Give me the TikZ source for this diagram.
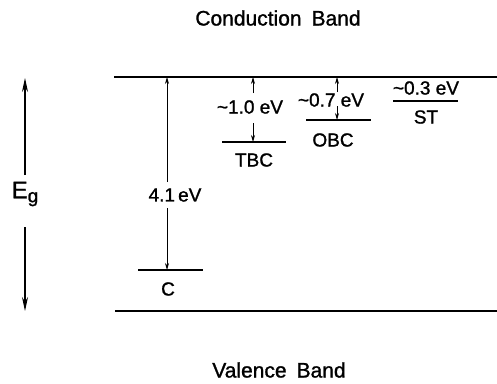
\documentclass[tikz,border=0pt]{standalone}
\usepackage{fontspec}
\setmainfont{Liberation Sans}[UprightFeatures={FakeBold=1.2}]
\usetikzlibrary{arrows.meta}
\begin{document}
\begin{tikzpicture}[x=1pt,y=-1pt,
  bandline/.style={line width=1.6pt},
  levelline/.style={line width=2.4pt},
  arr/.style={line width=0.7pt,-{Stealth[length=7pt,width=4pt]}},
  bigarr/.style={line width=1.1pt,-{Stealth[length=14pt,width=6pt]}},
  lbl/.style={font=\fontsize{19}{19}\selectfont, inner sep=0pt},
  big/.style={font=\fontsize{21}{21}\selectfont, inner sep=0pt}]
\useasboundingbox (0,0) rectangle (497,383);
% band edges
\coordinate (cbL) at (114,77);
\coordinate (cbR) at (497,77);
\coordinate (vbL) at (115,311);
\coordinate (vbR) at (497,311);
\draw[bandline] (cbL) -- (cbR);
\draw[bandline] (vbL) -- (vbR);
% band names
\node[big] (cb) at (278,18) {Conduction\hspace{10pt}Band};
\node[big] (vb) at (279,370) {Valence\hspace{10pt}Band};
% levels
\coordinate (cL) at (138,270);   \coordinate (cR) at (203,270);
\coordinate (tL) at (222,142);   \coordinate (tR) at (286,142);
\coordinate (oL) at (306,120);   \coordinate (oR) at (371,120);
\coordinate (sL) at (393,101);   \coordinate (sR) at (458,101);
\draw[levelline] (cL) -- (cR);
\draw[levelline] (tL) -- (tR);
\draw[levelline] (oL) -- (oR);
\draw[levelline] (sL) -- (sR);
% level names
\node[lbl] (c) at (168,289) {C};
\node[lbl] (tbc) at (254,160) {TBC};
\node[lbl] (obc) at (333,140) {OBC};
\node[lbl] (st) at (426,117) {ST};
% energies
\node[lbl] (e41) at (175,195) {4.1\,eV};
\node[lbl] (e10) at (250,107) {\textasciitilde1.0 eV};
\node[lbl] (e07) at (331,100) {\textasciitilde0.7 eV};
\node[lbl] (e03) at (426,88) {\textasciitilde0.3 eV};
% band gap
\node[font=\fontsize{24}{24}\selectfont, inner sep=0pt] (eg) at (25,194) {E\raisebox{-4pt}{\fontsize{19}{19}\selectfont g}};
\coordinate (egT) at (25,78);
\coordinate (egB) at (25,311);
\coordinate (egT0) at (25,175);
\coordinate (egB0) at (25,227);
\draw[bigarr] (egT0) -- (egT);
\draw[bigarr] (egB0) -- (egB);
% 4.1 eV arrow
\coordinate (a41t) at (167,77);
\coordinate (a41b) at (167,270);
\coordinate (a41u) at (167,182);
\coordinate (a41d) at (167,208);
\draw[arr] (a41u) -- (a41t);
\draw[arr] (a41d) -- (a41b);
% 1.0 eV arrow
\coordinate (a10t) at (253,77);
\coordinate (a10b) at (253,142);
\coordinate (a10u) at (253,93);
\coordinate (a10d) at (253,123);
\draw[arr] (a10u) -- (a10t);
\draw[arr] (a10d) -- (a10b);
% 0.7 eV arrow
\coordinate (a07t) at (337,77);
\coordinate (a07b) at (337,120);
\coordinate (a07u) at (337,92);
\coordinate (a07d) at (337,106);
\draw[arr] (a07u) -- (a07t);
\draw[arr] (a07d) -- (a07b);
\end{tikzpicture}
\end{document}
